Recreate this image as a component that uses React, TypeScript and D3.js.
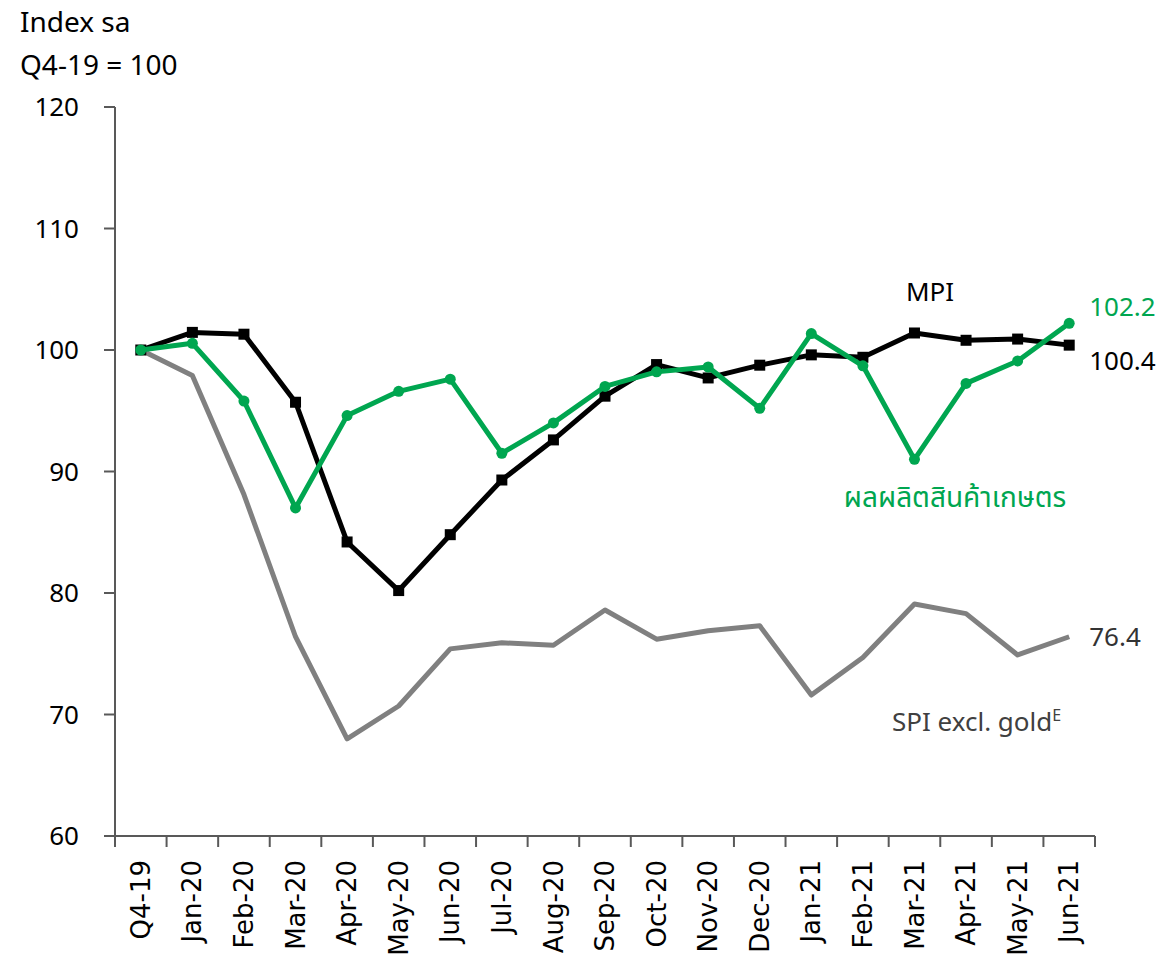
import * as d3 from "d3";

const months = [
  "Q4-19", "Jan-20", "Feb-20", "Mar-20", "Apr-20", "May-20", "Jun-20",
  "Jul-20", "Aug-20", "Sep-20", "Oct-20", "Nov-20", "Dec-20",
  "Jan-21", "Feb-21", "Mar-21", "Apr-21", "May-21", "Jun-21",
];

// MPI (black, squares)
const mpi = [
  100, 101.45, 101.3, 95.7, 84.2, 80.2, 84.8, 89.3, 92.6, 96.2,
  98.8, 97.7, 98.75, 99.6, 99.4, 101.4, 100.8, 100.9, 100.4,
];

// agricultural output (green, circles)
const agri = [
  100, 100.55, 95.8, 87.0, 94.6, 96.6, 97.6, 91.5, 94.0, 97.0,
  98.2, 98.6, 95.2, 101.35, 98.7, 91.0, 97.25, 99.1, 102.2,
];

// SPI excl. gold (grey)
const spi = [
  100, 97.9, 88.1, 76.4, 68.0, 70.7, 75.4, 75.9, 75.7, 78.6,
  76.2, 76.9, 77.3, 71.6, 74.7, 79.1, 78.3, 74.9, 76.4,
];

const yTicks = [60, 70, 80, 90, 100, 110, 120];

const W = 1168;
const H = 957;
const left = 115;
const right = 1095;
const top = 107;
const bottom = 836;

const GREEN = "#00a650";
const GREY = "#808080";
const FONT = "'Noto Sans', 'Noto Sans Thai', sans-serif";
const XFONT = "'DejaVu Sans', sans-serif";

export default function App() {
  const x = d3.scaleBand<string>().domain(months).range([left, right]);
  const y = d3.scaleLinear().domain([60, 120]).range([bottom, top]);
  const cx = (i: number) => (x(months[i]) as number) + x.bandwidth() / 2;

  const line = d3
    .line<number>()
    .x((_, i) => cx(i))
    .y((d) => y(d));

  const last = months.length - 1;
  const bounds = [...months.map((m) => x(m) as number), right];

  return (
    <svg
      width={W}
      height={H}
      style={{ position: "absolute", left: 0, top: 0, background: "#fff" }}
    >
      <text x={20} y={32} fontFamily={FONT} fontSize={28} fill="#000">
        Index sa
      </text>
      <text x={20} y={75} fontFamily={FONT} fontSize={28} fill="#000">
        Q4-19 = 100
      </text>

      {/* y axis */}
      <line x1={left} x2={left} y1={top} y2={bottom} stroke="#595959" strokeWidth={2} />
      {yTicks.map((t) => (
        <g key={t}>
          <line x1={left - 11} x2={left} y1={y(t)} y2={y(t)} stroke="#595959" strokeWidth={2} />
          <text
            x={79}
            y={y(t)}
            dy="0.35em"
            textAnchor="end"
            fontFamily={FONT}
            fontSize={26}
            fill="#000"
          >
            {t}
          </text>
        </g>
      ))}

      {/* x axis */}
      <line x1={left - 11} x2={right} y1={bottom} y2={bottom} stroke="#595959" strokeWidth={2} />
      {bounds.map((b, i) => (
        <line key={i} x1={b} x2={b} y1={bottom} y2={bottom + 11} stroke="#595959" strokeWidth={2} />
      ))}
      {months.map((m, i) => (
        <text
          key={m}
          transform={`translate(${cx(i)},${bottom + 24}) rotate(-90)`}
          dy="0.35em"
          textAnchor="end"
          fontFamily={XFONT}
          fontSize={26}
          fill="#000"
        >
          {m}
        </text>
      ))}

      {/* series */}
      <path d={line(spi) ?? ""} fill="none" stroke={GREY} strokeWidth={5} strokeLinejoin="round" />
      <path d={line(mpi) ?? ""} fill="none" stroke="#000" strokeWidth={5} strokeLinejoin="round" />
      {mpi.map((v, i) => (
        <rect key={i} x={cx(i) - 5.5} y={y(v) - 5.5} width={11} height={11} fill="#000" />
      ))}
      <path d={line(agri) ?? ""} fill="none" stroke={GREEN} strokeWidth={5} strokeLinejoin="round" />
      {agri.map((v, i) => (
        <circle key={i} cx={cx(i)} cy={y(v)} r={5.5} fill={GREEN} />
      ))}

      {/* labels */}
      <text x={930} y={292} dy="0.35em" textAnchor="middle" fontFamily={FONT} fontSize={26} fill="#000">
        MPI
      </text>
      <text x={cx(last) + 20} y={y(agri[last]) - 16} dy="0.35em" fontFamily={FONT} fontSize={26} fill={GREEN}>
        {agri[last].toFixed(1)}
      </text>
      <text x={cx(last) + 20} y={y(mpi[last]) + 16} dy="0.35em" fontFamily={FONT} fontSize={26} fill="#000">
        {mpi[last].toFixed(1)}
      </text>
      <text x={955} y={497} dy="0.35em" textAnchor="middle" fontFamily={FONT} fontSize={28} fill={GREEN}>
        ผลผลิตสินค้าเกษตร
      </text>
      <text x={cx(last) + 20} y={y(spi[last])} dy="0.35em" fontFamily={FONT} fontSize={26} fill="#333">
        {spi[last].toFixed(1)}
      </text>
      <text x={892} y={722} dy="0.35em" fontFamily={FONT} fontSize={26} fill="#404040">
        SPI excl. gold
        <tspan dy={-10} fontSize={16}>
          E
        </tspan>
      </text>
    </svg>
  );
}
